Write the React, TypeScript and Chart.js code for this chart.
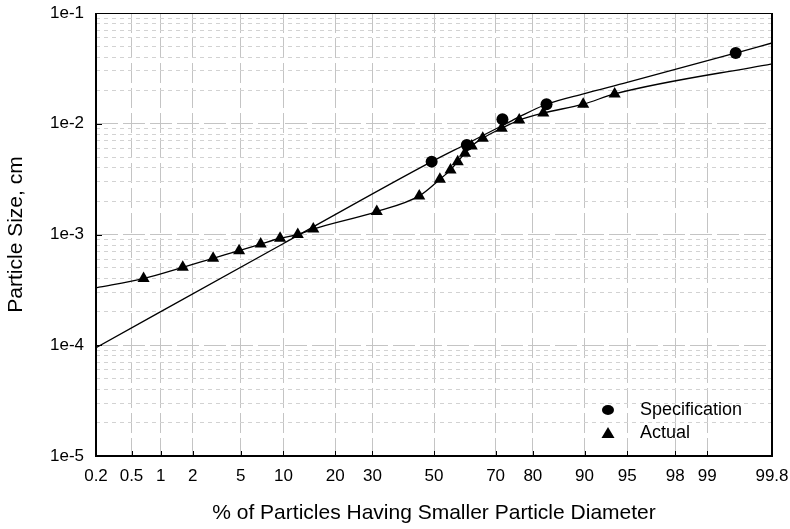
import React, { useEffect, useRef } from 'react';
import { Chart, Scale, registerables } from 'chart.js';

Chart.register(...registerables);

// ---- axis ticks ----
const xTickValues = [0.2, 0.5, 1, 2, 5, 10, 20, 30, 50, 70, 80, 90, 95, 98, 99, 99.8];
const xTickLabels = ['0.2', '0.5', '1', '2', '5', '10', '20', '30', '50', '70', '80', '90', '95', '98', '99', '99.8'];
const yDecades = [1e-5, 1e-4, 1e-3, 1e-2, 1e-1];
const yTickLabels = ['1e-5', '1e-4', '1e-3', '1e-2', '1e-1'];
const yMinorMultipliers = [2, 3, 4, 5, 6, 7, 8, 9];

// ---- Specification ----
const specX = [49.2, 61.0, 72.0, 83.1, 99.49];
const specY = [4.55e-3, 6.44e-3, 1.1e-2, 1.5e-2, 4.35e-2];
const specCurveX = [0.2, 10, 49.2, 61.0, 72.0, 76.6, 83.1, 90, 95, 99.49, 99.8];
const specCurveY = [9.5e-5, 8.3e-4, 4.55e-3, 6.6e-3, 9.65e-3, 1.154e-2, 1.5e-2, 1.875e-2, 2.36e-2, 4.35e-2, 5.36e-2];

// ---- Actual ----
const actualX = [0.67, 1.62, 3.0, 4.85, 7.0, 9.5, 12.3, 15.2, 31.3, 45.0, 52.0, 55.6, 58.0, 60.4, 62.6, 66.1, 71.8, 76.6, 82.4, 89.8, 93.8];
const actualY = [4.0e-4, 5.05e-4, 6.1e-4, 7.14e-4, 8.2e-4, 9.25e-4, 1.0e-3, 1.12e-3, 1.61e-3, 2.23e-3, 3.15e-3, 3.83e-3, 4.55e-3, 5.42e-3, 6.3e-3, 7.41e-3, 9.12e-3, 1.08e-2, 1.25e-2, 1.5e-2, 1.86e-2];
const actualCurveStartX = 0.2;
const actualCurveStartY = 3.3e-4;
const actualCurveEndX = 99.8;
const actualCurveEndY = 3.48e-2;

// ---- normal probability helpers ----
function probit(p: number): number {
  const a = [-3.969683028665376e1, 2.209460984245205e2, -2.759285104469687e2, 1.38357751867269e2, -3.066479806614716e1, 2.506628277459239];
  const b = [-5.447609879822406e1, 1.615858368580409e2, -1.556989798598866e2, 6.680131188771972e1, -1.328068155288572e1];
  const c = [-7.784894002430293e-3, -3.223964580411365e-1, -2.400758277161838, -2.549732539343734, 4.374664141464968, 2.938163982698783];
  const d = [7.784695709041462e-3, 3.224671290700398e-1, 2.445134137142996, 3.754408661907416];
  const plow = 0.02425;
  const phigh = 1 - plow;
  if (p <= 0) return -8;
  if (p >= 1) return 8;
  if (p < plow) {
    const q = Math.sqrt(-2 * Math.log(p));
    return (((((c[0] * q + c[1]) * q + c[2]) * q + c[3]) * q + c[4]) * q + c[5]) /
      ((((d[0] * q + d[1]) * q + d[2]) * q + d[3]) * q + 1);
  }
  if (p <= phigh) {
    const q = p - 0.5;
    const r = q * q;
    return (((((a[0] * r + a[1]) * r + a[2]) * r + a[3]) * r + a[4]) * r + a[5]) * q /
      (((((b[0] * r + b[1]) * r + b[2]) * r + b[3]) * r + b[4]) * r + 1);
  }
  const q = Math.sqrt(-2 * Math.log(1 - p));
  return -(((((c[0] * q + c[1]) * q + c[2]) * q + c[3]) * q + c[4]) * q + c[5]) /
    ((((d[0] * q + d[1]) * q + d[2]) * q + d[3]) * q + 1);
}

function normCdf(z: number): number {
  const x = Math.abs(z) / Math.SQRT2;
  const t = 1 / (1 + 0.3275911 * x);
  const y = 1 - (((((1.061405429 * t - 1.453152027) * t) + 1.421413741) * t - 0.284496736) * t + 0.254829592) * t * Math.exp(-x * x);
  return 0.5 * (1 + (z >= 0 ? y : -y));
}

class ProbabilityScale extends Scale {
  static id = 'probability';
  static defaults = {};
  declare _zmin: number;
  declare _zmax: number;

  determineDataLimits() {
    const { min, max } = (this as any).getUserBounds();
    (this as any).min = min;
    (this as any).max = max;
  }
  buildTicks() {
    return xTickValues.map((v) => ({ value: v }));
  }
  configure() {
    super.configure();
    this._zmin = probit((this as any).min / 100);
    this._zmax = probit((this as any).max / 100);
  }
  getLabelForValue(v: number) {
    return String(v);
  }
  getPixelForValue(v: number) {
    const z = probit(v / 100);
    return this.getPixelForDecimal((z - this._zmin) / (this._zmax - this._zmin));
  }
  getValueForPixel(p: number) {
    const dec = this.getDecimalForPixel(p);
    return 100 * normCdf(this._zmin + dec * (this._zmax - this._zmin));
  }
}
Chart.register(ProbabilityScale as any);

const isDecade = (v: number) => yDecades.some((d) => Math.abs(v / d - 1) < 1e-6);

const yTickValues: number[] = [];
yDecades.forEach((d, i) => {
  yTickValues.push(d);
  if (i < yDecades.length - 1) yMinorMultipliers.forEach((m) => yTickValues.push(m * d));
});

const framePlugin = {
  id: 'frameAndTicks',
  afterDatasetsDraw(chart: any) {
    const { ctx, chartArea: a } = chart;
    const xs = chart.scales.x;
    const ys = chart.scales.y;
    ctx.save();
    ctx.strokeStyle = '#000';
    ctx.lineWidth = 1;
    ctx.beginPath();
    xTickValues.forEach((v) => {
      const px = Math.round(xs.getPixelForValue(v)) + 0.5;
      ctx.moveTo(px, a.bottom);
      ctx.lineTo(px, a.bottom - 5);
    });
    yDecades.forEach((v) => {
      const py = Math.round(ys.getPixelForValue(v)) + 0.5;
      ctx.moveTo(a.left, py);
      ctx.lineTo(a.left + 6, py);
    });
    ctx.stroke();
    // frame
    ctx.lineWidth = 1;
    ctx.beginPath();
    ctx.moveTo(a.left, a.top + 0.5);
    ctx.lineTo(a.right, a.top + 0.5);
    ctx.stroke();
    ctx.lineWidth = 2;
    ctx.beginPath();
    ctx.moveTo(a.left, a.top);
    ctx.lineTo(a.left, a.bottom);
    ctx.lineTo(a.right, a.bottom);
    ctx.lineTo(a.right, a.top);
    ctx.stroke();

    // legend inside the plot
    const items = chart.data.datasets.filter((ds: any) => ds.label);
    ctx.font = '18px "Liberation Sans", Arial, sans-serif';
    ctx.textBaseline = 'middle';
    ctx.textAlign = 'left';
    ctx.fillStyle = '#000';
    items.forEach((ds: any, i: number) => {
      const cx = a.right - 164;
      const cy = a.bottom - 46 + i * 23;
      ctx.beginPath();
      if (ds.pointStyle === 'triangle') {
        ctx.moveTo(cx, cy - 6);
        ctx.lineTo(cx + 6.5, cy + 5);
        ctx.lineTo(cx - 6.5, cy + 5);
        ctx.closePath();
      } else {
        ctx.ellipse(cx, cy, 6, 5, 0, 0, Math.PI * 2);
      }
      ctx.fill();
      ctx.fillText(ds.label, a.right - 132, cy);
    });
    ctx.restore();
  },
};

export default function App() {
  const canvasRef = useRef<HTMLCanvasElement>(null);

  useEffect(() => {
    if (!canvasRef.current) return;
    Chart.defaults.font.family = '"Liberation Sans", Arial, sans-serif';
    Chart.defaults.color = '#000';

    const toPts = (xs: number[], ys: number[]) => xs.map((x, i) => ({ x, y: ys[i] }));
    const actualCurveX = [actualCurveStartX, ...actualX, actualCurveEndX];
    const actualCurveY = [actualCurveStartY, ...actualY, actualCurveEndY];

    const chart = new Chart(canvasRef.current, {
      type: 'scatter',
      data: {
        datasets: [
          {
            label: '',
            data: toPts(specCurveX, specCurveY),
            showLine: true,
            borderColor: '#000',
            borderWidth: 1.3,
            pointRadius: 0,
            cubicInterpolationMode: 'monotone',
          } as any,
          {
            label: '',
            data: toPts(actualCurveX, actualCurveY),
            showLine: true,
            borderColor: '#000',
            borderWidth: 1.3,
            pointRadius: 0,
            cubicInterpolationMode: 'monotone',
          } as any,
          {
            label: 'Specification',
            data: toPts(specX, specY),
            showLine: false,
            pointStyle: 'circle',
            pointRadius: 6,
            backgroundColor: '#000',
            borderColor: '#000',
            borderWidth: 0,
          } as any,
          {
            label: 'Actual',
            data: toPts(actualX, actualY),
            showLine: false,
            pointStyle: 'triangle',
            pointRadius: 7,
            backgroundColor: '#000',
            borderColor: '#000',
            borderWidth: 0,
          } as any,
        ],
      },
      options: {
        animation: false,
        responsive: true,
        maintainAspectRatio: false,
        layout: { padding: { left: 0, right: 18, top: 13, bottom: 0 } },
        plugins: {
          legend: { display: false },
          tooltip: { enabled: false },
        },
        scales: {
          x: {
            type: 'probability' as any,
            min: 0.2,
            max: 99.8,
            position: 'bottom',
            title: {
              display: true,
              text: '% of Particles Having Smaller Particle Diameter',
              font: { size: 21 },
              padding: { top: 0, bottom: 3 },
            },
            ticks: {
              autoSkip: false,
              maxRotation: 0,
              minRotation: 0,
              padding: 10,
              font: { size: 17 },
              callback: (_v: any, i: number) => xTickLabels[i],
            },
            grid: {
              drawTicks: false,
              color: '#c4c4c4',
              lineWidth: 1,
            },
            border: { display: false, dash: [20, 5] },
            afterFit: (s: any) => {
              s.height = 73;
              s.paddingLeft = 0;
              s.paddingRight = 0;
            },
          } as any,
          y: {
            type: 'logarithmic',
            min: 1e-5,
            max: 1e-1,
            title: {
              display: true,
              text: 'Particle Size, cm',
              font: { size: 21 },
              padding: { top: 4, bottom: 0 },
            },
            afterBuildTicks: (s: any) => {
              s.ticks = yTickValues.map((v) => ({ value: v, major: isDecade(v) }));
            },
            ticks: {
              autoSkip: false,
              padding: 12,
              font: { size: 17 },
              callback: (v: any) => {
                const idx = yDecades.findIndex((d) => Math.abs(Number(v) / d - 1) < 1e-6);
                return idx >= 0 ? yTickLabels[idx] : '';
              },
            },
            grid: {
              drawTicks: false,
              color: (ctx: any) => (ctx.tick && isDecade(ctx.tick.value) ? '#c4c4c4' : '#d2d2d2'),
              lineWidth: 1,
            },
            border: {
              display: false,
              dash: (ctx: any) => (ctx.tick ? (isDecade(ctx.tick.value) ? [22, 5] : [4, 4]) : []),
            },
            afterFit: (s: any) => {
              s.width = 96;
              s.paddingTop = 0;
              s.paddingBottom = 0;
            },
          } as any,
        },
      },
      plugins: [framePlugin],
    });
    return () => chart.destroy();
  }, []);

  return (
    <div style={{ position: 'fixed', left: 0, top: 0, width: 790, height: 529, background: '#fff' }}>
      <canvas ref={canvasRef} />
    </div>
  );
}
